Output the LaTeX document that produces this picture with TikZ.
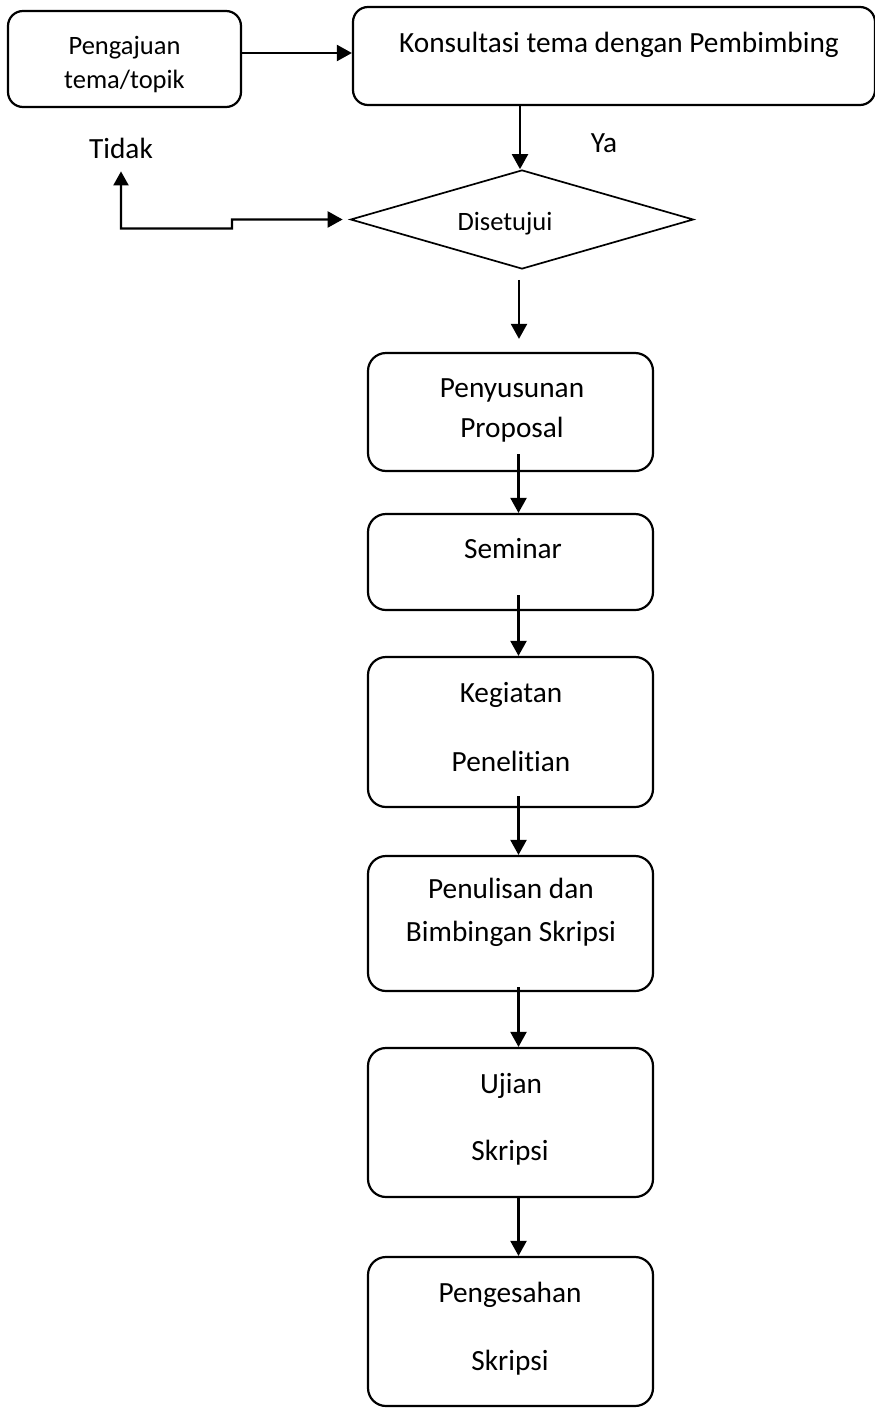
\documentclass[tikz,border=0pt]{standalone}
\usepackage{fontspec}
\setmainfont{Carlito}[Ligatures=NoCommon]
\usetikzlibrary{shapes.geometric}
\usetikzlibrary{arrows.meta}

\tikzset{
  stepbox/.style={draw,rounded corners=18pt,line width=2.2pt,inner sep=0pt,minimum width=285pt},
  decbox/.style={draw,diamond,line width=1.7pt,inner sep=0pt,minimum width=343pt,minimum height=99pt},
  big/.style={anchor=base,inner sep=0pt,font=\fontsize{29.3}{41}\selectfont},
  small/.style={anchor=base,inner sep=0pt,font=\fontsize{26.5}{35}\selectfont},
  arr/.style={line width=2.2pt,-{Triangle[length=15pt,width=16pt]}},
  arrs/.style={line width=2.2pt,{Triangle[length=14pt,width=15pt]}-{Triangle[length=15pt,width=16pt]}}
}

\begin{document}
\begin{tikzpicture}[x=1pt,y=-1pt]
      \useasboundingbox (0,0) rectangle (875,1408);
      % boxes
      \node[stepbox,rounded corners=15pt,minimum width=233pt,minimum height=96pt] (peng) at (124.5,59) {};
      \node[stepbox,rounded corners=15pt,minimum width=522pt,minimum height=98pt] (konsul) at (614,56) {};
      \node[decbox] (dis) at (522,219.5) {};
      \node[stepbox,minimum height=118pt] (prop) at (510.5,412) {};
      \node[stepbox,minimum height=96pt] (sem) at (510.5,562) {};
      \node[stepbox,minimum height=150pt] (keg) at (510.5,732) {};
      \node[stepbox,minimum height=135pt] (tulis) at (510.5,923.5) {};
      \node[stepbox,minimum height=149pt] (ujian) at (510.5,1122.5) {};
      \node[stepbox,minimum height=149pt] (sah) at (510.5,1331.5) {};

      % texts
      \node[small] (peng1) at (124.5,54) {Pengajuan};
      \node[small] (peng2) at (124.5,88) {tema/topik};
      \node[big] (konsul1) at (619,52) {Konsultasi tema dengan Pembimbing};
      \node[big] (ya) at (604,152) {Ya};
      \node[big] (tidak) at (121,158) {Tidak};
      \node[small] (dis1) at (505,230) {Disetujui};
      \node[big] (prop1) at (512,397) {Penyusunan};
      \node[big] (prop2) at (512,437) {Proposal};
      \node[big] (sem1) at (513,558) {Seminar};
      \node[big] (keg1) at (511,702) {Kegiatan};
      \node[big] (keg2) at (511,771) {Penelitian};
      \node[big] (tulis1) at (511,898) {Penulisan dan};
      \node[big] (tulis2) at (511,941) {Bimbingan Skripsi};
      \node[big] (ujian1) at (511,1093) {Ujian};
      \node[big] (ujian2) at (510,1160) {Skripsi};
      \node[big] (sah1) at (510,1302) {Pengesahan};
      \node[big] (sah2) at (510,1370) {Skripsi};

      % arrows
      \draw[arr] ([yshift=6pt]peng.east) -- ([yshift=3pt]konsul.west);
      \draw[arr] ([xshift=-2pt]dis.north |- konsul.south) -- ([xshift=-2pt]dis.north);
      \draw[arrs] ([yshift=-13pt]tidak.south) -- ++(0,57) -| ++(111,-9) -- ([xshift=-7pt]dis.west);
      \draw[arr] ([xshift=-3pt,yshift=-10pt]dis.south) -- ([xshift=8.5pt,yshift=13pt]prop.north);
      \foreach \a/\b/\s in {prop/sem/18,sem/keg/16,keg/tulis/12,tulis/ujian/5,ujian/sah/1} {
        \draw[arr] ([xshift=8pt,yshift=\s pt]\a.south) -- ([xshift=8pt]\b.north);
      }
\end{tikzpicture}
\end{document}
